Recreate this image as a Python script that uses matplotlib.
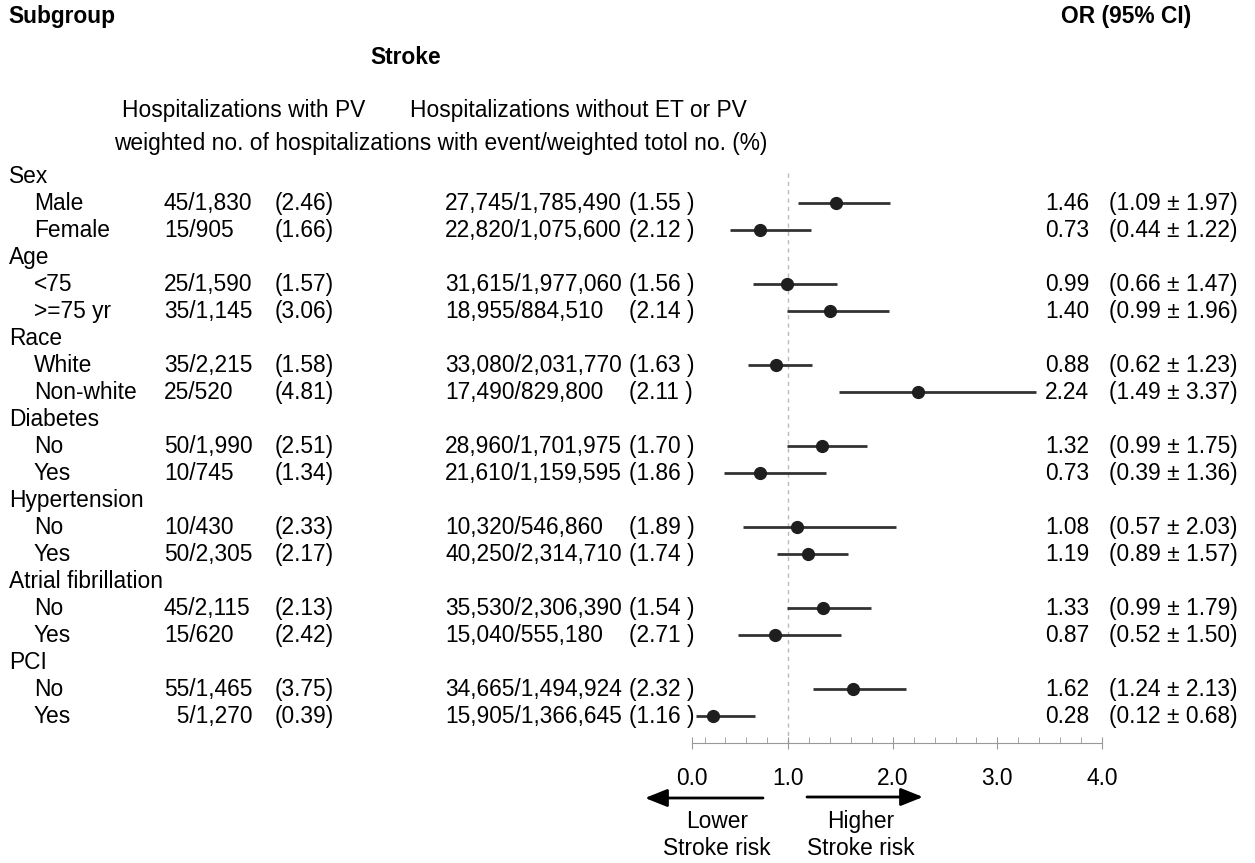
import matplotlib
matplotlib.use("Agg")
import matplotlib.pyplot as plt
from matplotlib.transforms import blended_transform_factory

plt.rcParams['font.family'] = ['Liberation Sans', 'DejaVu Sans']

# ---- data ----
groups = ["Sex", "Age", "Race", "Diabetes", "Hypertension", "Atrial fibrillation", "PCI"]
sub_labels = [["Male", "Female"], ["<75", ">=75 yr"], ["White", "Non-white"], ["No", "Yes"],
              ["No", "Yes"], ["No", "Yes"], ["No", "Yes"]]
pv_counts = ["45/1,830", "15/905", "25/1,590", "35/1,145", "35/2,215", "25/520", "50/1,990",
             "10/745", "10/430", "50/2,305", "45/2,115", "15/620", "55/1,465", "  5/1,270"]
pv_pct = ["(2.46)", "(1.66)", "(1.57)", "(3.06)", "(1.58)", "(4.81)", "(2.51)",
          "(1.34)", "(2.33)", "(2.17)", "(2.13)", "(2.42)", "(3.75)", "(0.39)"]
ctrl_counts = ["27,745/1,785,490", "22,820/1,075,600", "31,615/1,977,060", "18,955/884,510",
               "33,080/2,031,770", "17,490/829,800", "28,960/1,701,975", "21,610/1,159,595",
               "10,320/546,860", "40,250/2,314,710", "35,530/2,306,390", "15,040/555,180",
               "34,665/1,494,924", "15,905/1,366,645"]
ctrl_pct = ["(1.55 )", "(2.12 )", "(1.56 )", "(2.14 )", "(1.63 )", "(2.11 )", "(1.70 )",
            "(1.86 )", "(1.89 )", "(1.74 )", "(1.54 )", "(2.71 )", "(2.32 )", "(1.16 )"]
odds = [1.46, 0.73, 0.99, 1.40, 0.88, 2.24, 1.32, 0.73, 1.08, 1.19, 1.33, 0.87, 1.62, 0.28]
ci_low = [1.09, 0.44, 0.66, 0.99, 0.62, 1.49, 0.99, 0.39, 0.57, 0.89, 0.99, 0.52, 1.24, 0.12]
ci_high = [1.97, 1.22, 1.47, 1.96, 1.23, 3.37, 1.75, 1.36, 2.03, 1.57, 1.79, 1.50, 2.13, 0.68]

W, H = 1255, 863
fig = plt.figure(figsize=(W / 100, H / 100), dpi=100)

def fx(px):
    return px / W

def fy(py):
    return 1 - py / H

ax = fig.add_axes([fx(692), fy(743), fx(1102) - fx(692), fy(160) - fy(743)])
ax.set_xlim(0.08, 4.0)
ax.set_ylim(21, -0.6)

trans = blended_transform_factory(fig.transFigure, ax.transData)
fs = 16.4

# row positions: group header then its two subgroups
row = 0
k = 0
sub_rows = []
for g, subs in zip(groups, sub_labels):
    ax.text(fx(9), row, g, transform=trans, fontsize=fs, va='center', ha='left', clip_on=False)
    row += 1
    for s in subs:
        ax.text(fx(34), row, s, transform=trans, fontsize=fs, va='center', ha='left', clip_on=False)
        ax.text(fx(164), row, pv_counts[k], transform=trans, fontsize=fs, va='center', clip_on=False)
        ax.text(fx(275), row, pv_pct[k], transform=trans, fontsize=fs, va='center', clip_on=False)
        ax.text(fx(445), row, ctrl_counts[k], transform=trans, fontsize=fs, va='center', clip_on=False)
        ax.text(fx(629), row, ctrl_pct[k], transform=trans, fontsize=fs, va='center', clip_on=False)
        ax.text(fx(1045), row, f"{odds[k]:.2f}", transform=trans, fontsize=fs, va='center', clip_on=False)
        ax.text(fx(1109), row, f"({ci_low[k]:.2f} \u00b1 {ci_high[k]:.2f})", transform=trans,
                fontsize=fs, va='center', clip_on=False)
        sub_rows.append(row)
        row += 1
        k += 1

# forest marks
ax.vlines(1.0, -0.1, 21, colors='#bbbbbb', linestyles=(0, (3, 3)), lw=1, zorder=1)
ax.hlines(sub_rows, ci_low, ci_high, colors='#333333', lw=2, zorder=2)
ax.plot(odds, sub_rows, 'o', color='#1e1e1e', markersize=8.5, zorder=3)

# axis styling
for side in ['top', 'right', 'left']:
    ax.spines[side].set_visible(False)
ax.spines['bottom'].set_color('#999999')
ax.set_yticks([])
ax.set_xticks([0.08, 1, 2, 3, 4])
ax.set_xticklabels(["0.0", "1.0", "2.0", "3.0", "4.0"], fontsize=fs)
ax.set_xticks([v / 5 for v in range(1, 20) if v % 5 != 0], minor=True)
ax.tick_params(axis='x', which='major', direction='inout', length=8, color='#999999', pad=13)
ax.tick_params(axis='x', which='minor', direction='in', length=4, color='#999999')
ax.patch.set_alpha(0)

# headers
fig.text(fx(8), fy(16), "Subgroup", fontsize=fs, fontweight='bold', va='center', ha='left')
fig.text(fx(1191), fy(16), "OR (95% CI)", fontsize=fs, fontweight='bold', va='center', ha='right')
fig.text(fx(406), fy(57), "Stroke", fontsize=fs, fontweight='bold', va='center', ha='center')
fig.text(fx(244), fy(110), "Hospitalizations with PV", fontsize=fs, va='center', ha='center')
fig.text(fx(578), fy(110), "Hospitalizations without ET or PV", fontsize=fs, va='center', ha='center')
fig.text(fx(441), fy(143), "weighted no. of hospitalizations with event/weighted totol no. (%)",
         fontsize=fs, va='center', ha='center')

# direction arrows
arrow = dict(arrowstyle='-|>,head_width=0.3,head_length=0.75', color='black', lw=2,
             mutation_scale=18, shrinkA=0, shrinkB=0)
ax.annotate('', xy=(fx(645), fy(798)), xytext=(fx(763), fy(798)),
            xycoords='figure fraction', textcoords='figure fraction', arrowprops=arrow)
ax.annotate('', xy=(fx(923), fy(797)), xytext=(fx(807), fy(797)),
            xycoords='figure fraction', textcoords='figure fraction', arrowprops=arrow)
fig.text(fx(717), fy(835), "Lower\nStroke risk", fontsize=fs, va='center', ha='center', linespacing=1.2)
fig.text(fx(861), fy(835), "Higher\nStroke risk", fontsize=fs, va='center', ha='center', linespacing=1.2)

fig.savefig("out.png", dpi=100, facecolor='white')
